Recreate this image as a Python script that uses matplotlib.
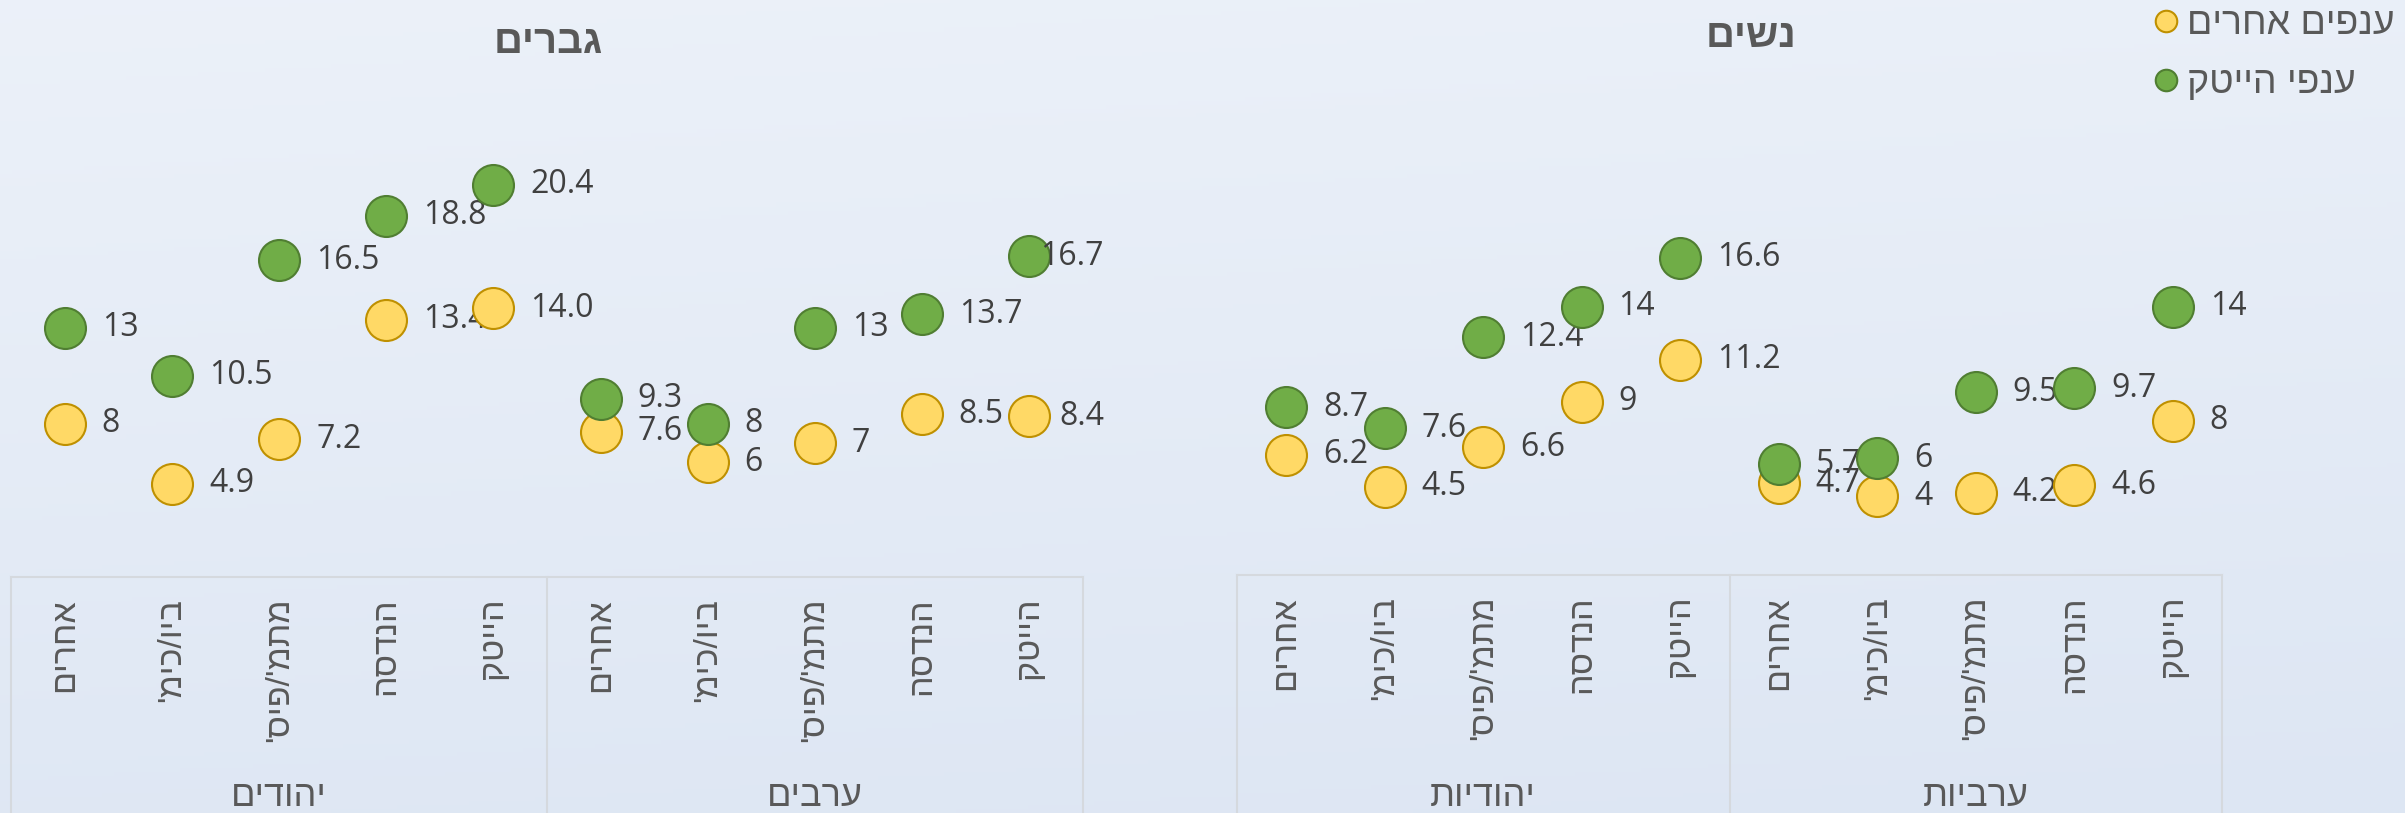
import numpy as np
import matplotlib.pyplot as plt
from matplotlib import transforms
from matplotlib.lines import Line2D

plt.rcParams["font.family"] = ["Open Sans", "Liberation Sans", "DejaVu Sans"]
HEB = ["Liberation Sans", "DejaVu Sans"]

def rtl(s):
    # no bidi in matplotlib: put the Hebrew in visual order by hand
    return s[::-1]

categories = ["אחרים", "ביו/כימ'", "מתמ'/פיס'", "הנדסה", "הייטק"]
men_groups = ["יהודים", "ערבים"]
women_groups = ["יהודיות", "ערביות"]
series_names = ["ענפים אחרים", "ענפי הייטק"]

# labels as shown in the chart (values are read from them)
men_other_txt = ["8", "4.9", "7.2", "13.4", "14.0", "7.6", "6", "7", "8.5", "8.4"]
men_hitech_txt = ["13", "10.5", "16.5", "18.8", "20.4", "9.3", "8", "13", "13.7", "16.7"]
women_other_txt = ["6.2", "4.5", "6.6", "9", "11.2", "4.7", "4", "4.2", "4.6", "8"]
women_hitech_txt = ["8.7", "7.6", "12.4", "14", "16.6", "5.7", "6", "9.5", "9.7", "14"]

yellow, yellow_edge = "#FFD966", "#BF9000"
green, green_edge = "#70AD47", "#507E32"
text_c = "#404040"
grey_c = "#595959"
line_c = "#D5D9DE"

W, H, DPI = 2405, 813, 100
fig = plt.figure(figsize=(W / DPI, H / DPI), dpi=DPI)

# gradient background
bg = fig.add_axes([0, 0, 1, 1], zorder=-10)
top = np.array([0.925, 0.945, 0.977])
bot = np.array([0.867, 0.902, 0.953])
yy, xx = np.mgrid[0:1:200j, 0:1:400j]
t = np.clip(0.85 * yy + 0.15 * xx, 0, 1)[..., None]
bg.imshow(top * (1 - t) + bot * t, aspect="auto", extent=[0, 1, 1, 0])
bg.set_axis_off()

panels = [
    ([11.4 / W, 236 / H, 1071.2 / W, 577 / H], (0.05, 30), men_groups,
     men_other_txt, men_hitech_txt, "גברים", (548, 53), 1104),
    ([1236.8 / W, 238 / H, 985.5 / W, 575 / H], (-0.15, 30.2), women_groups,
     women_other_txt, women_hitech_txt, "נשים", (1751, 47), W),
]

x = np.arange(10)
tick_labels = [rtl(c) for c in categories] * 2
all_labels = []

for rect, ylim, groups, other_txt, hitech_txt, title, tpos, right_px in panels:
    ax = fig.add_axes(rect)
    ax.set_facecolor("none")
    ax.set_xlim(-0.5, 9.5)
    ax.set_ylim(*ylim)
    for s in ax.spines.values():
        s.set_visible(False)
    ax.set_yticks([])
    ax.set_xticks(x, tick_labels, rotation=90, fontsize=24.5, color=grey_c,
                  family=HEB)
    ax.tick_params(axis="x", length=0, pad=15)

    # category box
    tr = ax.get_xaxis_transform()
    ax.plot([-0.5, 9.5], [0, 0], color=line_c, lw=1.5, transform=tr, clip_on=False)
    for xv in (-0.5, 4.5, 9.5):
        ax.plot([xv, xv], [0, -0.6], color=line_c, lw=1.5, transform=tr, clip_on=False)

    gtr = transforms.blended_transform_factory(ax.transData, fig.transFigure)
    for gi, g in enumerate(groups):
        ax.text(2 + 5 * gi, 7 / H, rtl(g), transform=gtr, ha="center",
                va="baseline", fontsize=26, color=grey_c, family=HEB)

    fig.text(tpos[0] / W, 1 - tpos[1] / H, rtl(title), ha="center",
             va="baseline", fontsize=29, fontweight="bold", color=grey_c,
             family=HEB)

    z = 2
    for txts, fc, ec in ((other_txt, yellow, yellow_edge),
                         (hitech_txt, green, green_edge)):
        vals = [float(v) for v in txts]
        for xi, v, lab in zip(x, vals, txts):
            ax.plot(xi, v, "o", ms=29.5, mfc=fc, mec=ec, mew=1.5, zorder=z,
                    clip_on=False)
            a = ax.annotate(lab, (xi, v), xytext=(26.5, 0),
                            textcoords="offset points", ha="left",
                            va="center", fontsize=23, color=text_c,
                            zorder=z + 1, annotation_clip=False)
            all_labels.append((a, right_px))
            z += 2

# keep labels inside the chart area, like the original
fig.canvas.draw()
r = fig.canvas.get_renderer()
for a, right_px in all_labels:
    bb = a.get_window_extent(r)
    if bb.x1 > right_px:
        dx, dy = a.xyann
        a.xyann = (dx - (bb.x1 - right_px) * 72 / DPI, dy)

handles = [
    Line2D([], [], ls="", marker="o", ms=15.5, mfc=yellow, mec=yellow_edge,
           mew=1.5, label=rtl(series_names[0])),
    Line2D([], [], ls="", marker="o", ms=15.5, mfc=green, mec=green_edge,
           mew=1.5, label=rtl(series_names[1])),
]
leg = fig.legend(handles=handles, loc="upper left",
                 bbox_to_anchor=(2151 / W, 1 - 6 / H), frameon=False,
                 prop={"family": HEB, "size": 27}, labelcolor=grey_c,
                 handlelength=0.8, handletextpad=0.15, labelspacing=0.62,
                 borderpad=0, borderaxespad=0)

fig.savefig("out.png", dpi=DPI)
